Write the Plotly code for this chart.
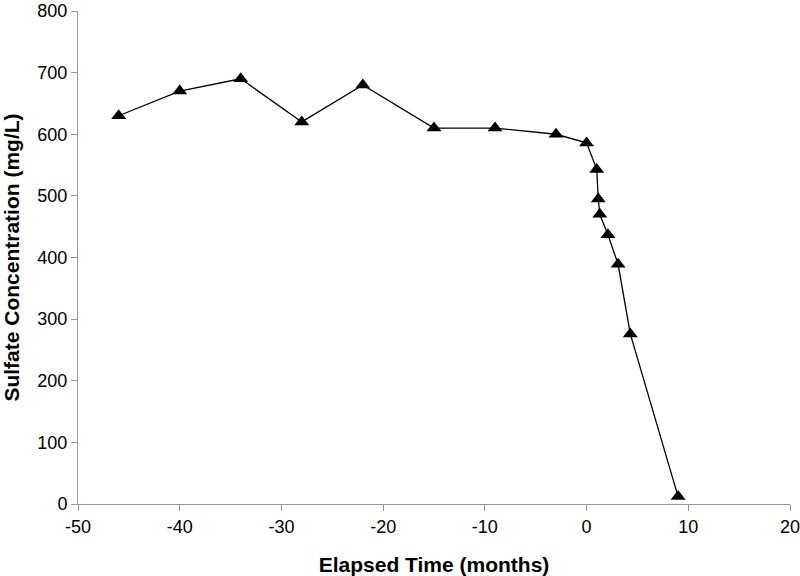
import plotly.graph_objects as go

# elapsed time (months) and sulfate concentration (mg/L)
elapsed_months = [-46, -40, -34, -28, -22, -15, -9, -3, 0, 1.0, 1.15, 1.3, 2.1, 3.1, 4.3, 9.0]
sulfate_mg_l = [630, 670, 690, 620, 680, 610, 610, 600, 586, 543, 495, 470, 437, 389, 276, 12]

x_ticks = [-50, -40, -30, -20, -10, 0, 10, 20]
x_tick_labels = ['-50', '-40', '-30', '-20', '-10', '0', '10', '20']
y_ticks = [0, 100, 200, 300, 400, 500, 600, 700, 800]

fig = go.Figure(go.Scatter(
    x=elapsed_months,
    y=sulfate_mg_l,
    mode='lines+markers',
    line=dict(color='black', width=1.3),
    marker=dict(symbol='triangle-up', size=13, color='black'),
    showlegend=False,
    cliponaxis=False,
))

axis_font = dict(family='Liberation Sans, Arial, sans-serif', size=18, color='black')
title_font = dict(family='Liberation Sans, Arial, sans-serif', size=21, color='black')

fig.update_layout(
    width=800, height=576,
    margin=dict(l=78, r=10, t=11, b=72),
    paper_bgcolor='white',
    plot_bgcolor='white',
    xaxis=dict(
        range=[-50, 20],
        tickvals=x_ticks,
        ticktext=x_tick_labels,
        automargin=False,
        ticklabeloverflow='allow',
        showgrid=False, zeroline=False,
        showline=True, linecolor='#999999', linewidth=1,
        ticks='outside', ticklen=6, tickcolor='#999999',
        tickfont=axis_font,
        title=dict(text='<b>Elapsed Time (months)</b>', font=title_font, standoff=21),
    ),
    yaxis=dict(
        range=[0, 800],
        tickvals=y_ticks,
        automargin=False,
        ticklabeloverflow='allow',
        showgrid=False, zeroline=False,
        showline=True, linecolor='#999999', linewidth=1,
        ticks='outside', ticklen=6, tickcolor='#999999',
        tickfont=axis_font,
        title=dict(text='<b>Sulfate Concentration (mg/L)</b>', font=title_font, standoff=12),
    ),
)

# drop the default 8px page margin so the figure sits at the window corner
fig.write_html('out.html', config={'displayModeBar': False},
               post_script="document.body.style.margin='0';")
